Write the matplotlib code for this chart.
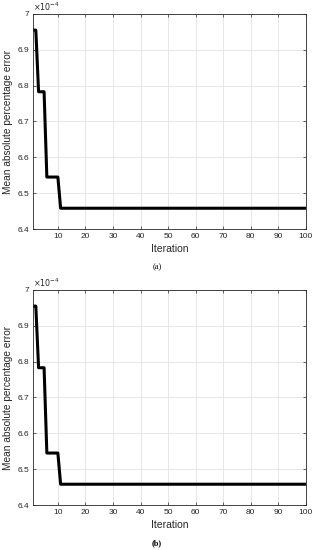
import numpy as np
import matplotlib.pyplot as plt

# Convergence curve: mean absolute percentage error (x 1e-4) per iteration
iterations = list(range(1, 101))
mape_a = [6.955, 6.955, 6.783, 6.783, 6.783, 6.545, 6.545, 6.545, 6.545, 6.545] + [6.458] * 90
mape_b = [6.955, 6.955, 6.783, 6.783, 6.783, 6.545, 6.545, 6.545, 6.545, 6.545] + [6.458] * 90
xticks = [10, 20, 30, 40, 50, 60, 70, 80, 90, 100]
yticks = [6.4, 6.5, 6.6, 6.7, 6.8, 6.9, 7.0]
ytick_labels = ['6.4', '6.5', '6.6', '6.7', '6.8', '6.9', '7']
captions = ['(a)', '(b)']

plt.rcParams['font.family'] = ['Liberation Sans', 'DejaVu Sans']

fig = plt.figure(figsize=(3.21, 5.5), dpi=100)
axes_pos = [[0.103, 0.5836, 0.850, 0.391], [0.103, 0.0818, 0.850, 0.391]]
caption_y = [0.515, 0.013]

for pos, vals, cap, cy in zip(axes_pos, [mape_a, mape_b], captions, caption_y):
    ax = fig.add_axes(pos)
    ax.plot(iterations, vals, color='black', linewidth=2.2)
    ax.set_xlim(1, 100)
    ax.set_ylim(6.4, 7.0)
    ax.set_xticks(xticks)
    ax.set_yticks(yticks)
    ax.set_yticklabels(ytick_labels)
    ax.grid(True, color='#e3e3e3', linewidth=0.6)
    ax.tick_params(direction='in', length=2.5, width=0.5, labelsize=6,
                   colors='#262626', top=True, right=True, pad=3)
    for s in ax.spines.values():
        s.set_color('#262626')
        s.set_linewidth(0.6)
    ax.set_xlabel('Iteration', fontsize=7.5, color='#262626')
    ax.xaxis.set_label_coords(0.5, -0.07)
    ax.set_ylabel('Mean absolute percentage error', fontsize=7.25, color='#262626',
                  va='center')
    ax.yaxis.set_label_coords(-0.092, 0.5)
    ax.text(0.0, 1.005, r'$\times10^{-4}$', transform=ax.transAxes, fontsize=5.8,
            color='#262626', ha='left', va='bottom')
    fig.text(0.489, cy, cap, fontsize=6, family='Liberation Serif',
             fontweight='bold' if cap == '(b)' else 'normal', ha='center', va='center')

fig.savefig('out.png', dpi=100)
